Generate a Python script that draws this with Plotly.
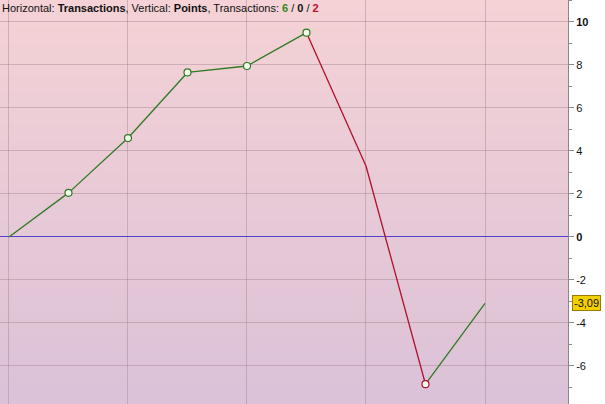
import plotly.graph_objects as go

# ---- data ----
transactions = [0, 1, 2, 3, 4, 5, 6, 7, 8]
points = [0.0, 2.05, 4.6, 7.65, 7.95, 9.5, 3.3, -6.85, -3.09]
marker_idx = [1, 2, 3, 4, 5, 7]
y_tick_vals = [-6, -4, -2, 0, 2, 4, 6, 8, 10]
y_tick_text = ["-6", "-4", "-2", "<b>0</b>", "2", "4", "6", "8", "<b>10</b>"]
last_label = "-3,09"
wins, even, losses = 6, 0, 2

GREEN = "#2f7a22"
RED = "#b0102a"

fig = go.Figure()

# background gradient stripes (overlapping to avoid seams)
top = (244, 210, 213)
bot = (220, 194, 216)
n = 50
for i in range(n):
    t = i / (n - 1)
    c = tuple(round(top[k] + (bot[k] - top[k]) * t) for k in range(3))
    fig.add_shape(type="rect", xref="paper", yref="paper",
                  x0=0, x1=1, y0=max(0, 1 - (i + 1) / n), y1=min(1, 1 - i / n + 0.6 / n),
                  fillcolor="rgb(%d,%d,%d)" % c, line_width=0, layer="below")

# segments colored by direction
for i in range(len(points) - 1):
    col = GREEN if points[i + 1] >= points[i] else RED
    fig.add_trace(go.Scatter(x=transactions[i:i + 2], y=points[i:i + 2],
                             mode="lines", line=dict(color=col, width=1.3),
                             showlegend=False, hoverinfo="skip"))

mx = [transactions[i] for i in marker_idx]
my = [points[i] for i in marker_idx]
mc = [GREEN if points[i] >= points[i - 1] else RED for i in marker_idx]
fig.add_trace(go.Scatter(x=mx, y=my, mode="markers",
                         marker=dict(size=7, color="#f4fff0",
                                     line=dict(color=mc, width=1.2)),
                         showlegend=False, hoverinfo="skip"))

fig.update_layout(
    width=605, height=404,
    margin=dict(l=0, r=37, t=0, b=0, autoexpand=False),
    paper_bgcolor="white",
    plot_bgcolor="rgba(0,0,0,0)",
    font=dict(family="Liberation Sans, Arial, sans-serif", size=11, color="#111"),
    xaxis=dict(range=[-0.151, 9.395], dtick=2, tick0=0, showticklabels=False,
               showgrid=True, gridcolor="rgba(150,120,130,0.38)", gridwidth=1,
               zeroline=False, showline=False, ticks=""),
    yaxis=dict(range=[-7.77, 11.02], side="right", tickvals=y_tick_vals,
               ticktext=y_tick_text, showgrid=True, automargin=False,
               gridcolor="rgba(150,120,130,0.38)", gridwidth=1,
               zeroline=True, zerolinecolor="#5040d0", zerolinewidth=1,
               showline=True, linecolor="#8a8a8a", linewidth=1,
               ticks="outside", ticklen=5, tickcolor="#8a8a8a",
               minor=dict(dtick=1, ticks="outside", ticklen=3,
                          tickcolor="#8a8a8a", showgrid=False),
               tickfont=dict(size=11, color="#111")),
    annotations=[
        dict(xref="paper", yref="paper", x=0, y=1, xanchor="left", yanchor="top",
             showarrow=False, align="left",
             text=("Horizontal: <b>Transactions</b>, Vertical: <b>Points</b>, Transactions: "
                   "<b><span style='color:%s'>%d</span></b> / <b>%d</b> / "
                   "<b><span style='color:%s'>%d</span></b>") % ("#2f8a22", wins, even, "#c0102a", losses),
             font=dict(size=11, color="#111")),
        dict(xref="paper", yref="y", x=1, y=points[-1], xanchor="left", yanchor="middle",
             xshift=4, showarrow=False, text=last_label,
             bgcolor="#f2d000", bordercolor="#9a7a00", borderwidth=1, borderpad=1,
             font=dict(size=11, color="#111")),
    ],
)

fig.write_html("out.html", config={"displayModeBar": False},
               post_script="document.body.style.margin='0';document.body.style.padding='0';")
